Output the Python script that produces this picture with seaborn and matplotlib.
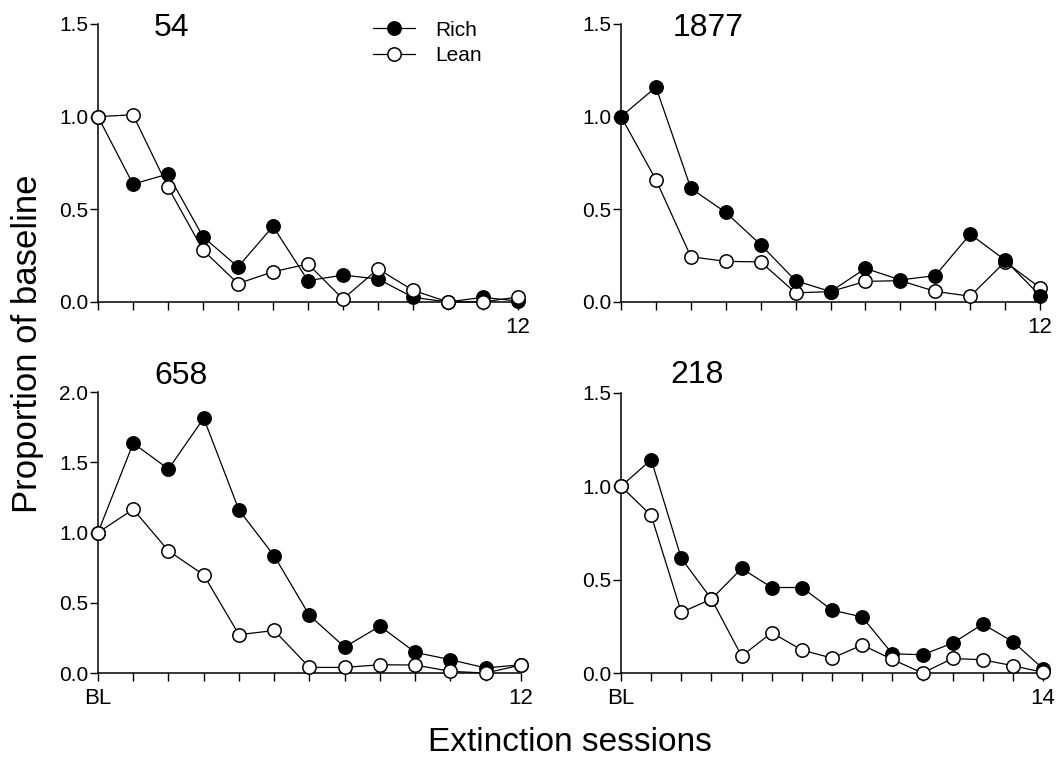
import matplotlib
matplotlib.use("Agg")
import matplotlib.pyplot as plt
import seaborn as sns
import numpy as np
import pandas as pd

# ---------------- data ----------------
subjects = ["54", "1877", "658", "218"]

sessions_12 = list(range(0, 13))
sessions_14 = list(range(0, 15))

rich_54 = [1.0, 0.636, 0.69, 0.352, 0.189, 0.408, 0.115, 0.145, 0.124, 0.025, 0.0, 0.025, 0.005]
lean_54 = [1.0, 1.01, 0.62, 0.28, 0.099, 0.163, 0.205, 0.016, 0.178, 0.063, 0.0, 0.0, 0.027]

rich_1877 = [1.0, 1.159, 0.613, 0.483, 0.309, 0.115, 0.056, 0.181, 0.119, 0.142, 0.366, 0.226, 0.034]
lean_1877 = [1.0, 0.659, 0.244, 0.219, 0.216, 0.049, 0.056, 0.111, 0.115, 0.057, 0.031, 0.217, 0.077]

rich_658 = [1.0, 1.637, 1.453, 1.815, 1.161, 0.834, 0.41, 0.185, 0.334, 0.147, 0.095, 0.036, 0.059]
lean_658 = [1.0, 1.166, 0.87, 0.699, 0.273, 0.303, 0.04, 0.04, 0.059, 0.057, 0.012, 0.0, 0.057]

rich_218 = [1.0, 1.143, 0.614, 0.396, 0.56, 0.458, 0.458, 0.337, 0.30, 0.103, 0.098, 0.16, 0.262, 0.168, 0.023]
lean_218 = [1.0, 0.844, 0.325, 0.396, 0.091, 0.216, 0.123, 0.08, 0.15, 0.073, 0.0, 0.078, 0.071, 0.039, 0.004]

series_labels = ["Rich", "Lean"]
y_label = "Proportion of baseline"
x_label = "Extinction sessions"

# ---------------- style ----------------
sns.set_style("ticks")
plt.rcParams["font.family"] = ["Liberation Sans", "DejaVu Sans"]
plt.rcParams["text.color"] = "black"
plt.rcParams["xtick.color"] = "black"
plt.rcParams["ytick.color"] = "black"
plt.rcParams["axes.labelcolor"] = "black"
plt.rcParams["axes.edgecolor"] = "black"

fig = plt.figure(figsize=(10.58, 7.61), dpi=100)

positions = [
    [0.0926, 0.6032, 0.397, 0.3653],
    [0.587, 0.6032, 0.396, 0.3653],
    [0.0926, 0.1156, 0.3998, 0.369],
    [0.587, 0.1156, 0.3989, 0.368],
]

panels = [
    dict(x=sessions_12, rich=rich_54, lean=lean_54, ymax=1.5, title_xy=(0.176, 0.986), bottom=False, rich_top=False),
    dict(x=sessions_12, rich=rich_1877, lean=lean_1877, ymax=1.5, title_xy=(0.208, 0.986), bottom=False, rich_top=True),
    dict(x=sessions_12, rich=rich_658, lean=lean_658, ymax=2.0, title_xy=(0.196, 1.059), bottom=True, rich_top=False),
    dict(x=sessions_14, rich=rich_218, lean=lean_218, ymax=1.5, title_xy=(0.18, 1.064), bottom=True, rich_top=False),
]

lw = 0.9
ms = 9.6
mew = 1.1

for i, (pos, p, name) in enumerate(zip(positions, panels, subjects)):
    ax = fig.add_axes(pos)
    x = p["x"]
    z_rich = 4 if p["rich_top"] else 3
    z_lean = 3 if p["rich_top"] else 4
    sns.lineplot(x=x, y=p["rich"], ax=ax, color="black", marker="o", markersize=ms,
                 markerfacecolor="black", markeredgecolor="black", markeredgewidth=mew,
                 linewidth=lw, clip_on=False, zorder=z_rich, label=series_labels[0], legend=False)
    sns.lineplot(x=x, y=p["lean"], ax=ax, color="black", marker="o", markersize=ms,
                 markerfacecolor="white", markeredgecolor="black", markeredgewidth=mew,
                 linewidth=lw, clip_on=False, zorder=z_lean, label=series_labels[1], legend=False)

    n = x[-1]
    ax.set_xlim(0, n)
    ax.set_ylim(0, p["ymax"])
    ax.set_xticks(x)
    labels = [""] * len(x)
    labels[-1] = str(n)
    if p["bottom"]:
        labels[0] = "BL"
    ax.set_xticklabels(labels)
    yt = np.arange(0, p["ymax"] + 0.01, 0.5)
    ax.set_yticks(yt)
    ax.set_yticklabels([f"{v:.1f}" for v in yt])
    ax.tick_params(axis="both", direction="out", length=6, width=1.0, color="black", labelcolor="black")
    ax.tick_params(axis="x", pad=5, labelsize=16)
    ax.tick_params(axis="y", pad=1, labelsize=15)
    for s in ["top", "right"]:
        ax.spines[s].set_visible(False)
    for s in ["left", "bottom"]:
        ax.spines[s].set_linewidth(1.1)
        ax.spines[s].set_color("black")
    ax.set_xlabel("")
    ax.set_ylabel("")
    ax.text(p["title_xy"][0], p["title_xy"][1], name, transform=ax.transAxes,
            ha="center", va="center", fontsize=23, color="black")
    if i == 0:
        ax.legend(loc="upper left", bbox_to_anchor=(0.655, 1.012), frameon=False,
                  fontsize=15, handlelength=2.0, handletextpad=1.0, labelspacing=0.3,
                  borderpad=0, borderaxespad=0, labelcolor="black")

fig.text(0.026, 0.548, y_label, rotation=90, ha="center", va="center", fontsize=25, color="black")
fig.text(0.539, 0.024, x_label, ha="center", va="center", fontsize=24, color="black")

fig.savefig("out.png", dpi=100)
